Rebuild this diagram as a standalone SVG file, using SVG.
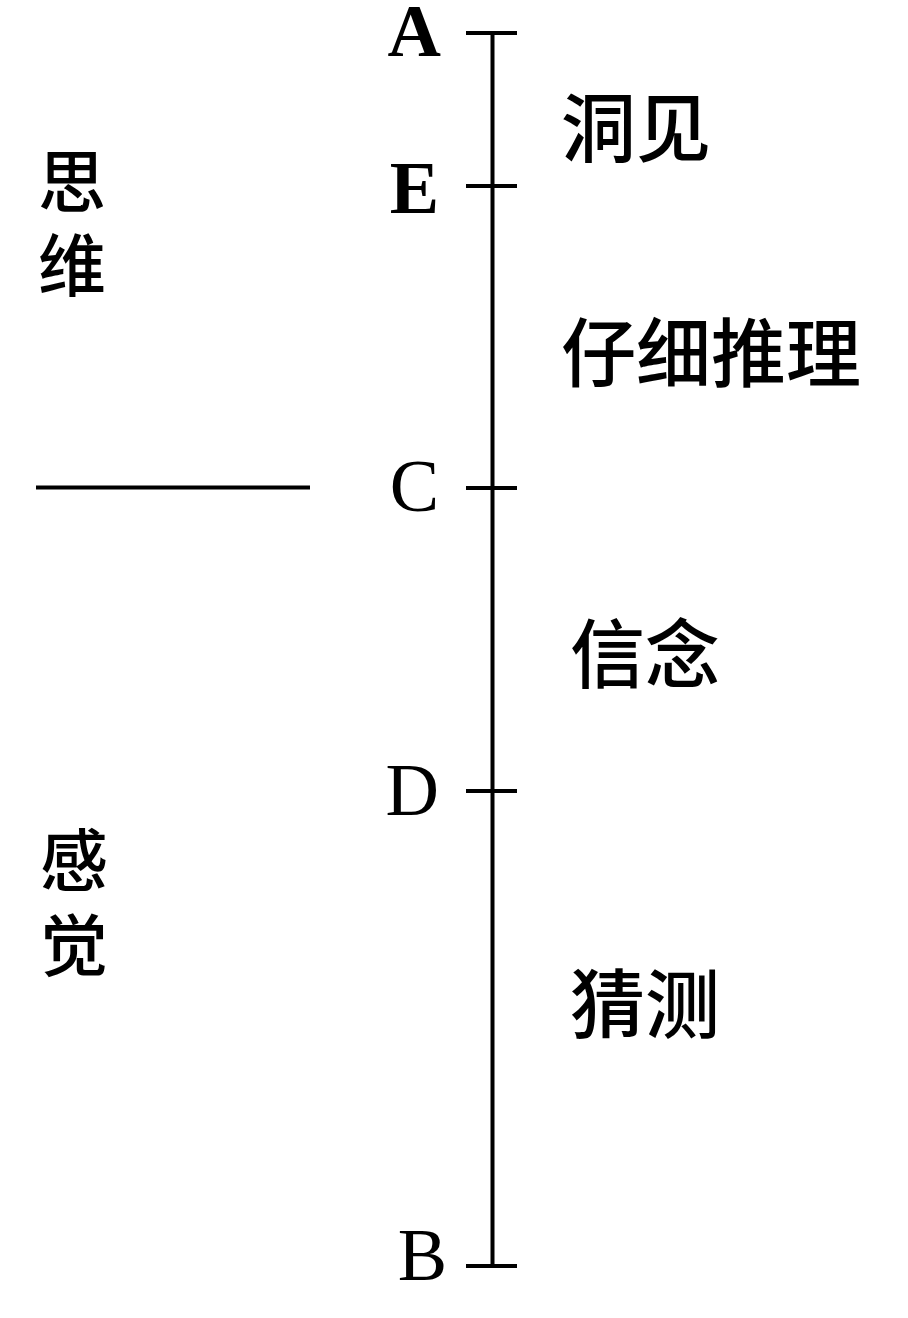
<svg xmlns="http://www.w3.org/2000/svg" width="908" height="1318" viewBox="0 0 908 1318">
<style>
.ln{stroke:#000;stroke-width:4;fill:none}
.lt{font-family:"Liberation Serif","DejaVu Serif",serif;font-size:74px;fill:#000;text-anchor:end}
.b{font-weight:bold}
.cj{font-family:"Noto Sans CJK SC",sans-serif;font-size:75px;font-weight:500;fill:#000}
.cl{font-family:"Noto Sans CJK SC",sans-serif;font-size:68px;font-weight:500;fill:#000}
</style>
<rect width="908" height="1318" fill="#fff"/>
<g id="connectors">
<line class="ln" x1="492.5" y1="33" x2="492.5" y2="1266"/>
<line class="ln" x1="36" y1="487.5" x2="310" y2="487.5"/>
</g>
<g id="node-A"><line class="ln" x1="466" y1="33" x2="517" y2="33"/><text class="lt b" x="441" y="56">A</text></g>
<g id="node-E"><line class="ln" x1="466" y1="186" x2="517" y2="186"/><text class="lt b" x="439" y="213">E</text></g>
<g id="node-C"><line class="ln" x1="466" y1="488" x2="517" y2="488"/><text class="lt" x="439" y="511">C</text></g>
<g id="node-D"><line class="ln" x1="466" y1="791" x2="517" y2="791"/><text class="lt" x="439" y="815">D</text></g>
<g id="node-B"><line class="ln" x1="466" y1="1266" x2="517" y2="1266"/><text class="lt" x="447" y="1280">B</text></g>
<g id="label-insight"><text class="cj" x="561" y="156">洞见</text></g>
<g id="label-reasoning"><text class="cj" x="561" y="381">仔细推理</text></g>
<g id="label-belief"><text class="cj" x="570" y="682">信念</text></g>
<g id="label-guess"><text class="cj" x="570" y="1032">猜测</text></g>
<g id="label-thinking"><text class="cl"><tspan x="38" y="207">思</tspan><tspan x="38" y="291">维</tspan></text></g>
<g id="label-feeling"><text class="cl"><tspan x="40" y="886">感</tspan><tspan x="40" y="971">觉</tspan></text></g>
</svg>
